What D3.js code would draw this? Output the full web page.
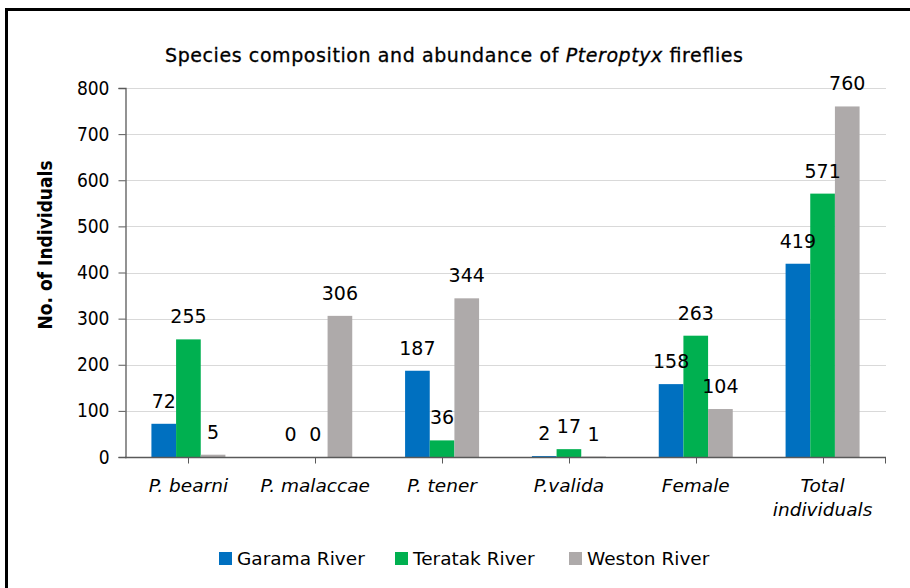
<!DOCTYPE html>
<html>
<head>
<meta charset="utf-8">
<script src="https://cdn.jsdelivr.net/npm/d3@7"></script>
<style>
  body { margin: 0; background: #fff; }
  text { font-family: "DejaVu Sans", Verdana, sans-serif; }
</style>
</head>
<body>
<div id="container"></div>
<script>
/* CONSTANTS AND GLOBALS */
const width = 910,
  height = 588,
  margin = { top: 88, bottom: 131, left: 125, right: 24 };

/* DATA */
const categories = ["P. bearni", "P. malaccae", "P. tener", "P.valida", "Female", "Total individuals"];
const series = ["Garama River", "Teratak River", "Weston River"];
const garama = [72, 0, 187, 2, 158, 419];
const teratak = [255, 0, 36, 17, 263, 571];
const weston = [5, 306, 344, 1, 104, 760];
const yTicks = [0, 100, 200, 300, 400, 500, 600, 700, 800];
const colors = ["#0070C0", "#00B050", "#AEAAAA"];

const values = [garama, teratak, weston];
const rows = categories.map((c, i) => ({
  cat: c,
  vals: series.map((s, j) => ({ series: s, value: values[j][i] }))
}));

/* SCALES */
const xScale = d3.scaleBand()
  .domain(categories)
  .range([margin.left, width - margin.right])
  .paddingInner(0)
  .paddingOuter(0);

const xInner = d3.scaleBand()
  .domain(series)
  .range([-37, 37]);

const yScale = d3.scaleLinear()
  .domain([0, 800])
  .range([height - margin.bottom, margin.top]);

const colorScale = d3.scaleOrdinal()
  .domain(series)
  .range(colors);

/* SVG */
const svg = d3.select("#container")
  .append("svg")
  .attr("width", width)
  .attr("height", height);

// frame
svg.append("rect")
  .attr("x", 6.5)
  .attr("y", 9.5)
  .attr("width", 1000)
  .attr("height", 1000)
  .attr("fill", "none")
  .attr("stroke", "#000")
  .attr("stroke-width", 3);

// title
const title = svg.append("text")
  .attr("x", 165)
  .attr("y", 62)
  .attr("textLength", 578)
  .attr("lengthAdjust", "spacing")
  .style("font-family", "'DejaVu Sans', sans-serif")
  .style("font-size", "19px")
  .attr("stroke", "#000")
  .attr("stroke-width", 0.3);
title.append("tspan").text("Species composition and abundance of ");
title.append("tspan").style("font-style", "italic").text("Pteroptyx");
title.append("tspan").text(" fireflies");

// gridlines
svg.append("g")
  .selectAll("line")
  .data(yTicks.filter(d => d > 0))
  .join("line")
  .attr("x1", margin.left)
  .attr("x2", width - margin.right)
  .attr("y1", d => Math.round(yScale(d)) + 0.5)
  .attr("y2", d => Math.round(yScale(d)) + 0.5)
  .attr("stroke", "#d9d9d9");

// y axis
const yAxis = svg.append("g")
  .attr("transform", `translate(${margin.left + 0.5},0)`)
  .call(d3.axisLeft(yScale).tickValues(yTicks).tickSize(7).tickPadding(9));
yAxis.select(".domain").attr("stroke", "#595959").attr("stroke-width", 1.3);
yAxis.selectAll(".tick line").attr("stroke", "#595959");
yAxis.selectAll("text")
  .style("font-family", "'DejaVu Sans Condensed', sans-serif")
  .style("font-size", "19px")
  .attr("fill", "#000");

svg.append("text")
  .attr("transform", "translate(52,245) rotate(-90)")
  .attr("text-anchor", "middle")
  .style("font-family", "'DejaVu Sans Condensed', sans-serif")
  .style("font-weight", "bold")
  .style("font-size", "19px")
  .text("No. of Individuals");

// bars
const groups = svg.append("g")
  .selectAll(".group")
  .data(rows)
  .join("g")
  .attr("class", "group")
  .attr("transform", d => `translate(${xScale(d.cat) + xScale.bandwidth() / 2},0)`);

groups.selectAll("rect")
  .data(d => d.vals)
  .join("rect")
  .attr("x", d => xInner(d.series))
  .attr("width", xInner.bandwidth())
  .attr("y", d => yScale(d.value))
  .attr("height", d => yScale(0) - yScale(d.value))
  .attr("fill", d => colorScale(d.series));

groups.selectAll(".lbl")
  .data(d => d.vals)
  .join("text")
  .attr("class", "lbl")
  .attr("x", d => xInner(d.series) + xInner.bandwidth() / 2)
  .attr("y", d => yScale(d.value) - 16)
  .attr("text-anchor", "middle")
  .style("font-size", "19px")
  .text(d => d.value);

// x axis
const xAxis = svg.append("g")
  .attr("transform", `translate(0,${yScale(0) + 0.5})`);
xAxis.append("line")
  .attr("x1", margin.left)
  .attr("x2", width - margin.right)
  .attr("stroke", "#595959")
  .attr("stroke-width", 1.5);
xAxis.selectAll(".tk")
  .data(categories)
  .join("line")
  .attr("class", "tk")
  .attr("x1", d => Math.round(xScale(d) + xScale.bandwidth() / 2) + 0.5)
  .attr("x2", d => Math.round(xScale(d) + xScale.bandwidth() / 2) + 0.5)
  .attr("y2", 6)
  .attr("stroke", "#595959");
xAxis.append("line")
  .attr("x1", width - margin.right - 0.5)
  .attr("x2", width - margin.right - 0.5)
  .attr("y2", 6)
  .attr("stroke", "#595959");

xAxis.selectAll(".cat")
  .data(categories)
  .join("text")
  .attr("class", "cat")
  .attr("x", d => xScale(d) + xScale.bandwidth() / 2)
  .attr("y", 34)
  .attr("text-anchor", "middle")
  .style("font-style", "italic")
  .style("font-size", "18.5px")
  .each(function (d) {
    const t = d3.select(this);
    if (d === "Total individuals") {
      t.append("tspan").attr("x", xScale(d) + xScale.bandwidth() / 2).text("Total");
      t.append("tspan").attr("x", xScale(d) + xScale.bandwidth() / 2).attr("dy", 24).text("individuals");
    } else {
      t.text(d);
    }
  });

// legend
const legendX = [219, 395, 569];
const legend = svg.append("g")
  .selectAll(".leg")
  .data(series)
  .join("g")
  .attr("class", "leg")
  .attr("transform", (d, i) => `translate(${legendX[i]},552)`);
legend.append("rect")
  .attr("width", 13)
  .attr("height", 13)
  .attr("fill", d => colorScale(d));
legend.append("text")
  .attr("x", 18)
  .attr("y", 13)
  .style("font-size", "18.5px")
  .text(d => d);
</script>
</body>
</html>
